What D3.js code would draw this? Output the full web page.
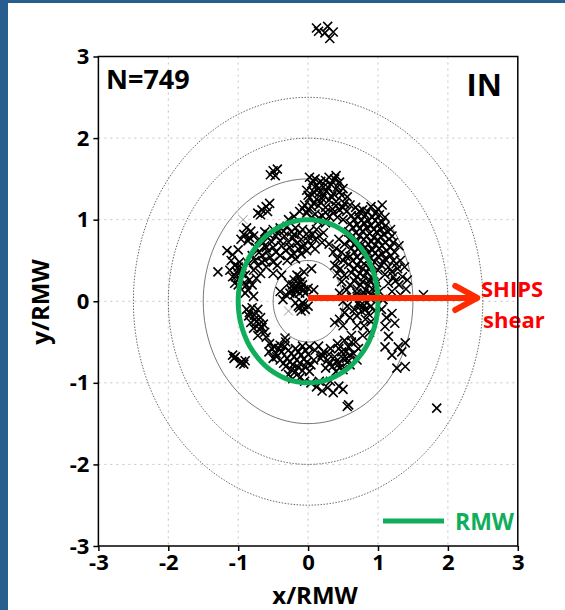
<!DOCTYPE html>
<html>
<head>
<meta charset="utf-8">
<script src="https://cdn.jsdelivr.net/npm/d3@7"></script>
<style>
  body { margin: 0; background: #fff; }
  svg text { font-family: "Open Sans", sans-serif; font-weight: 700; }
  .grid line { stroke: #c4c4c4; stroke-dasharray: 2,4; }
</style>
</head>
<body>
<div id="plot"></div>
<script>
// ---- data ----
const xTicks = [-3, -2, -1, 0, 1, 2, 3];
const yTicks = [-3, -2, -1, 0, 1, 2, 3];
const ringsSolid = [0.5, 1.5];
const ringsDotted = [2, 2.5];
const rmwRadius = 1;
const shearArrow = [[0, 0.04], [2.42, 0.04]];
const countLabel = "N=749";
const panelLabel = "IN";

const topArc = [[0.02,1.52],[0.1,1.5],[0.18,1.47],[0.3,1.52],[0.38,1.5],[0.45,1.46],[0.05,1.44],[0.12,1.42],[0.22,1.4],[0.33,1.43],[0.42,1.4],[0.5,1.38],[-0.02,1.36],[0.08,1.34],[0.16,1.33],[0.26,1.35],[0.36,1.32],[0.48,1.3],[0.56,1.28],[0.02,1.27],[0.12,1.25],[0.2,1.26],[0.3,1.24],[0.4,1.22],[0.52,1.2],[0.6,1.18],[-0.05,1.18],[0.05,1.16],[0.15,1.17],[0.25,1.15],[0.35,1.13],[0.45,1.12],[0.55,1.1],[-0.12,1.1],[-0.02,1.08],[0.1,1.07],[0.2,1.05],[0.3,1.04],[0.42,1.03],[-0.2,1.04],[-0.28,1.0],[0.14,0.98],[0.25,0.96],[0.5,1.0],
  [0.07,1.48],[0.25,1.48],[0.4,1.54],[0.15,1.38],[0.28,1.4],[0.45,1.34],[0.0,1.3],[0.22,1.3],[0.34,1.28],[0.08,1.2],[0.18,1.21],[0.4,1.17],[0.5,1.15],[0.0,1.12],[0.25,1.09],[0.36,1.08],[-0.08,1.14],[0.15,1.02],[0.05,1.03]];

const eastBand = [[0.68,1.15],[0.78,1.12],[0.9,1.16],[1.0,1.13],[1.06,1.18],
  [0.62,1.05],[0.72,1.04],[0.82,1.06],[0.92,1.03],[1.02,1.06],[1.1,1.03],
  [0.6,0.95],[0.7,0.94],[0.8,0.96],[0.9,0.93],[1.0,0.95],[1.1,0.92],[1.18,0.88],
  [0.58,0.85],[0.68,0.84],[0.78,0.86],[0.88,0.83],[0.98,0.85],[1.08,0.82],[1.2,0.8],
  [0.6,0.75],[0.7,0.74],[0.8,0.76],[0.9,0.73],[1.0,0.75],[1.1,0.72],[1.22,0.72],[1.3,0.68],
  [0.62,0.65],[0.72,0.64],[0.82,0.66],[0.92,0.63],[1.02,0.65],[1.12,0.62],[1.24,0.6],
  [0.6,0.55],[0.7,0.54],[0.8,0.56],[0.9,0.53],[1.0,0.55],[1.1,0.52],[1.22,0.5],[1.32,0.5],
  [0.58,0.45],[0.7,0.44],[0.8,0.46],[0.9,0.43],[1.05,0.44],[1.15,0.42],[1.28,0.4],[1.38,0.42],
  [0.62,0.35],[0.74,0.34],[0.84,0.36],[0.94,0.33],[1.1,0.33],[1.22,0.3],[1.35,0.3],[1.42,0.26],
  [0.66,0.25],[0.78,0.24],[0.88,0.26],[0.98,0.23],[1.15,0.22],[1.3,0.2],[1.4,0.15],
  [0.7,0.15],[0.82,0.14],[0.92,0.15],[1.02,0.12],[1.2,0.12],[1.32,0.08],
  [0.78,0.05],[0.88,0.04],[0.98,0.06],[1.07,0.02],
  [0.8,-0.05],[0.9,-0.06],[0.76,-0.12],[0.86,-0.15],[0.95,-0.12],[0.7,-0.18],[0.82,-0.22],
  [0.6,0.2],[0.7,0.1],[0.62,0.05],[0.72,-0.02],[0.66,-0.1],[0.6,-0.2],[0.9,-0.25],[0.8,-0.3],[0.7,-0.3],[0.88,-0.38],[0.78,-0.42],
  [0.73,1.1],[0.85,1.1],[0.96,1.08],[0.66,1.0],[0.76,0.99],[0.86,0.99],[0.96,0.99],[1.06,0.97],[0.64,0.9],[0.74,0.89],[0.84,0.9],[0.94,0.88],[1.04,0.88],[1.14,0.85],[0.64,0.8],[0.74,0.8],[0.84,0.8],[0.94,0.78],[1.04,0.79],[1.16,0.76],[0.66,0.7],[0.76,0.69],[0.86,0.7],[0.96,0.69],[1.06,0.68],[1.18,0.66],[0.66,0.6],[0.76,0.6],[0.86,0.6],[0.96,0.59],[1.06,0.58],[1.18,0.56],[0.64,0.5],[0.75,0.5],[0.85,0.5],[0.95,0.48],[1.08,0.48],[1.26,0.46],[0.66,0.4],[0.78,0.4],[0.88,0.4],[1.0,0.38],[1.2,0.36],[0.7,0.3],[0.8,0.3],[0.92,0.28],[1.25,0.25],[0.75,0.2],[0.86,0.2],[0.96,0.18],[0.8,0.1],[0.9,0.09],[0.84,-0.02],[0.74,-0.06],[0.82,-0.1]];

const midEast = [[0.4,0.65],[0.48,0.6],[0.42,0.52],[0.5,0.5],[0.38,0.44],[0.46,0.4],[0.52,0.32],[0.42,0.34],[0.48,0.24],[0.55,0.14],[0.45,0.1],[0.5,0.0],[0.56,-0.06],[0.52,-0.14],[0.54,0.55],[0.52,0.7],[0.44,0.76],[0.36,0.6]];

const eastOuter = [[1.2,-0.15],[1.24,-0.27],[1.1,-0.31],[1.15,-0.43],[1.29,-0.56],[1.34,-0.62],[1.2,-0.66],[1.39,-0.51],[1.27,-0.82],[1.39,-0.8],[1.1,-0.56],[1.07,0.02],[1.05,-0.1],[1.12,-0.2]];

const northWest = [[-0.62,0.85],[-0.5,0.88],[-0.4,0.9],[-0.3,0.92],[-0.18,0.9],[-0.08,0.88],[0.02,0.86],[0.12,0.88],[0.22,0.84],
  [-0.7,0.76],[-0.58,0.78],[-0.46,0.8],[-0.34,0.8],[-0.22,0.78],[-0.1,0.76],[0.0,0.74],[0.1,0.76],[0.2,0.72],[0.3,0.7],
  [-0.75,0.66],[-0.62,0.68],[-0.5,0.66],[-0.38,0.68],[-0.26,0.66],[-0.14,0.64],[-0.02,0.62],[0.1,0.64],
  [-0.8,0.56],[-0.66,0.56],[-0.54,0.54],[-0.4,0.56],[-0.3,0.5],[-0.18,0.52],
  [-0.85,0.46],[-0.72,0.44],[-0.6,0.42],[-0.44,0.44],[-0.5,0.34],[-0.38,0.32],
  [-0.88,0.9],[-0.82,0.86],[-0.92,0.82],[-0.84,0.78],[-0.78,0.8],[-0.96,0.76],[-0.86,0.74],
  [-0.72,1.08],[-0.66,1.12],[-0.6,1.16],[-0.55,1.2],[-0.68,1.06],[-0.58,1.1],
  [-0.54,1.55],[-0.5,1.6],[-0.44,1.62],[-0.47,1.54],
  [-0.56,0.82],[-0.44,0.84],[-0.24,0.85],[-0.12,0.83],[0.06,0.82],[0.16,0.8],[-0.64,0.72],[-0.52,0.73],[-0.4,0.74],[-0.28,0.72],[-0.16,0.71],[-0.06,0.69],[0.05,0.68],[-0.7,0.6],[-0.58,0.61],[-0.46,0.6],[-0.2,0.58],[-0.1,0.58],[-0.76,0.5],[-0.66,0.48],[-0.78,0.38],[-0.68,0.34],[-0.74,0.28],
  [-0.35,0.86],[-0.2,0.82],[0.0,0.8],[-0.6,0.66],[-0.32,0.62],[-0.08,0.66],[-0.62,0.5],[-0.5,0.48],[-0.24,0.56]];

const westSide = [[-1.1,0.5],[-1.05,0.44],[-0.98,0.48],[-1.12,0.38],[-1.02,0.36],[-0.94,0.4],[-1.08,0.3],[-0.98,0.28],[-0.9,0.32],[-1.0,0.2],[-0.92,0.22],[-0.86,0.14],[-0.8,0.2],[-0.9,0.1],[-0.78,0.06],[-0.84,0.26],[-1.05,0.22],
  [-1.29,0.36],[-1.16,0.62],[-1.0,0.63],[-1.08,0.57],
  [-0.88,-0.1],[-0.8,-0.08],[-0.72,-0.1],[-0.85,-0.18],[-0.77,-0.17],[-0.68,-0.2],[-0.82,-0.26],[-0.74,-0.25],[-0.64,-0.28],[-0.78,-0.33],[-0.7,-0.34],[-0.62,-0.38],[-0.72,-0.42],[-0.6,-0.44],
  [-1.08,-0.66],[-1.04,-0.68],[-1.06,-0.7],[-0.95,-0.74],[-0.92,-0.77],[-0.97,-0.76],[-0.9,-0.73],
  [-0.84,-0.14],[-0.76,-0.22],[-0.7,-0.28],[-0.66,-0.32],[-1.0,0.42],[-1.04,0.3],[-0.95,0.34],[-0.88,0.2]];

const southArc = [[-0.55,-0.52],[-0.48,-0.56],[-0.4,-0.54],[-0.32,-0.5],[-0.56,-0.62],[-0.46,-0.64],[-0.38,-0.62],[-0.28,-0.6],[-0.18,-0.58],[-0.08,-0.55],[0.02,-0.56],[-0.5,-0.7],[-0.4,-0.72],[-0.3,-0.7],[-0.2,-0.68],[-0.1,-0.66],[0.0,-0.65],[0.1,-0.6],[-0.32,-0.8],[-0.22,-0.78],[-0.12,-0.76],[-0.02,-0.75],[0.08,-0.72],[-0.28,-0.9],[-0.18,-0.86],[-0.08,-0.85],[0.02,-0.86],[-0.22,-0.95],[-0.12,-0.94],
  [0.15,-0.55],[0.22,-0.62],[0.32,-0.58],[0.42,-0.52],[0.52,-0.48],[0.62,-0.42],[0.18,-0.7],[0.28,-0.72],[0.38,-0.68],[0.48,-0.62],[0.58,-0.56],[0.68,-0.5],[0.25,-0.82],[0.35,-0.8],[0.45,-0.76],[0.55,-0.7],[0.65,-0.64],[0.72,-0.58],[0.4,-0.86],[0.5,-0.84],[0.6,-0.78],[0.7,-0.72],
  [0.04,-1.0],[0.12,-1.05],[0.2,-1.1],[0.28,-1.06],[0.36,-1.12],[0.44,-1.04],[0.5,-1.08],[0.16,-0.98],[0.32,-0.98],[-0.05,-0.98],
  [0.38,-0.26],[0.45,-0.22],[0.5,-0.3],[-0.33,-0.45],
  [-0.52,-0.58],[-0.42,-0.58],[-0.34,-0.56],[-0.24,-0.64],[-0.14,-0.62],[-0.04,-0.6],[-0.45,-0.68],[-0.35,-0.76],[-0.26,-0.74],[-0.16,-0.72],[-0.06,-0.71],[-0.24,-0.84],[-0.14,-0.81],[-0.04,-0.8],[0.04,-0.78],[0.2,-0.66],[0.3,-0.65],[0.44,-0.58],[0.54,-0.62],[0.62,-0.5],[0.3,-0.77],[0.4,-0.74],[0.5,-0.7],[0.6,-0.66],[0.45,-0.82],[0.56,-0.75]];

const center = [[-0.28,0.22],[-0.2,0.26],[-0.12,0.3],[-0.06,0.36],[0.05,0.4],[-0.24,0.14],[-0.16,0.18],[-0.08,0.2],[0.0,0.16],[0.08,0.14],[-0.2,0.08],[-0.12,0.1],[-0.04,0.1],[-0.32,0.08],[-0.4,0.12],[-0.36,0.02],[-0.14,-0.06],[-0.06,-0.04],[0.0,-0.06],[-0.1,-0.12],[-0.18,-0.02],
  [-0.22,0.2],[-0.14,0.22],[-0.1,0.16],[-0.18,0.13],[-0.26,0.1],[-0.06,0.14],[-0.16,0.32],[-0.1,0.24],[-0.12,-0.08],[-0.04,-0.1],[-0.08,-0.02]];

const outliers = [[0.12,3.35],[0.28,3.37],[0.24,3.29],[0.36,3.3],[0.31,3.22],[0.15,3.31],[1.65,0.08],[1.84,-1.31],[0.58,-1.27],[0.56,-1.29]];

const faintPoints = [[-0.93,1.0],[-0.28,-0.12],[-0.5,0.5]];

// ---- layout ----
const W = 565, H = 610;
const mLeft = 98.4, mTop = 56.5, mRight = 517.8, mBottom = 546;

const svg = d3.select("#plot").append("svg")
  .attr("width", W).attr("height", H);

// blue slide frame
svg.append("rect").attr("x", 0).attr("y", 0).attr("width", 8).attr("height", H).attr("fill", "#285d8f");
svg.append("rect").attr("x", 0).attr("y", 0).attr("width", W).attr("height", 3).attr("fill", "#285d8f");

const x = d3.scaleLinear().domain([-3, 3]).range([mLeft, mRight]);
const y = d3.scaleLinear().domain([-3, 3]).range([mBottom, mTop]);

// gridlines
const grid = svg.append("g").attr("class", "grid");
grid.selectAll(".vx").data(xTicks.slice(1, -1)).join("line")
  .attr("x1", d => x(d)).attr("x2", d => x(d)).attr("y1", mTop).attr("y2", mBottom);
grid.selectAll(".hy").data(yTicks.slice(1, -1)).join("line")
  .attr("y1", d => y(d)).attr("y2", d => y(d)).attr("x1", mLeft).attr("x2", mRight);

// range rings
const ring = r => d3.range(0, 361, 3).map(a => [r * Math.cos(a * Math.PI / 180), r * Math.sin(a * Math.PI / 180)]);
const line = d3.line().x(d => x(d[0])).y(d => y(d[1]));
svg.selectAll(".ring-s").data(ringsSolid).join("path")
  .attr("d", r => line(ring(r))).attr("fill", "none").attr("stroke", "#555").attr("stroke-width", 0.8);
svg.selectAll(".ring-d").data(ringsDotted).join("path")
  .attr("d", r => line(ring(r))).attr("fill", "none").attr("stroke", "#444")
  .attr("stroke-width", 0.8).attr("stroke-dasharray", "1.5,1.5");

// scatter
const s = 4.5;
const cross = d => {
  const px = x(d[0]), py = y(d[1]);
  return `M${px - s},${py - s}L${px + s},${py + s}M${px - s},${py + s}L${px + s},${py - s}`;
};
const allPoints = [].concat(topArc, eastBand, midEast, eastOuter, northWest, westSide, southArc, center, outliers);
svg.append("g").selectAll("path").data(faintPoints).join("path")
  .attr("d", cross).attr("stroke", "#999").attr("stroke-width", 1).attr("fill", "none");
svg.append("g").selectAll("path").data(allPoints).join("path")
  .attr("d", cross).attr("stroke", "#000").attr("stroke-width", 1.6).attr("fill", "none");

// RMW ring
svg.append("path").attr("d", line(ring(rmwRadius)))
  .attr("fill", "none").attr("stroke", "#10ae5c").attr("stroke-width", 5);

// shear arrow
svg.append("path").attr("d", line(shearArrow))
  .attr("stroke", "#ff2a00").attr("stroke-width", 6).attr("fill", "none");
const tip = [x(shearArrow[1][0]), y(shearArrow[1][1])];
svg.append("path")
  .attr("d", `M${tip[0] - 22},${tip[1] - 12}L${tip[0]},${tip[1]}L${tip[0] - 22},${tip[1] + 12}`)
  .attr("stroke", "#ff2a00").attr("stroke-width", 6).attr("fill", "none")
  .attr("stroke-linecap", "round").attr("stroke-linejoin", "round");
svg.append("text").attr("x", 481).attr("y", 297).attr("fill", "#ff0000").attr("font-size", 22).text("SHIPS");
svg.append("text").attr("x", 483).attr("y", 328).attr("fill", "#ff0000").attr("font-size", 22).text("shear");

// axes
const fmt = d => String(d);
const xAxis = d3.axisBottom(x).tickValues(xTicks).tickFormat(fmt).tickSize(5).tickSizeOuter(0).tickPadding(3);
const yAxis = d3.axisLeft(y).tickValues(yTicks).tickFormat(fmt).tickSize(5).tickSizeOuter(0).tickPadding(4);
const gx = svg.append("g").attr("transform", `translate(0,${mBottom})`).call(xAxis);
const gy = svg.append("g").attr("transform", `translate(${mLeft},0)`).call(yAxis);
[gx, gy].forEach(g => {
  g.select(".domain").remove();
  g.selectAll(".tick line").attr("stroke", "#000").attr("stroke-width", 1.5);
  g.selectAll("text").attr("font-size", 22).attr("fill", "#000").attr("font-weight", 700);
});
svg.append("rect").attr("x", mLeft).attr("y", mTop).attr("width", mRight - mLeft).attr("height", mBottom - mTop)
  .attr("fill", "none").attr("stroke", "#000").attr("stroke-width", 1.5);

svg.append("text").attr("x", 315).attr("y", 604).attr("text-anchor", "middle").attr("font-size", 24).text("x/RMW");
svg.append("text").attr("transform", "translate(49,302) rotate(-90)").attr("text-anchor", "middle").attr("font-size", 24).text("y/RMW");

svg.append("text").attr("x", 106).attr("y", 89).attr("font-size", 27).text(countLabel);
svg.append("text").attr("x", 502).attr("y", 96).attr("text-anchor", "end").attr("font-size", 31).text(panelLabel);

// legend
svg.append("line").attr("x1", 383).attr("x2", 444).attr("y1", 521).attr("y2", 521)
  .attr("stroke", "#10ae5c").attr("stroke-width", 5);
svg.append("text").attr("x", 455).attr("y", 530).attr("fill", "#10ae5c").attr("font-size", 23).text("RMW");
</script>
</body>
</html>
